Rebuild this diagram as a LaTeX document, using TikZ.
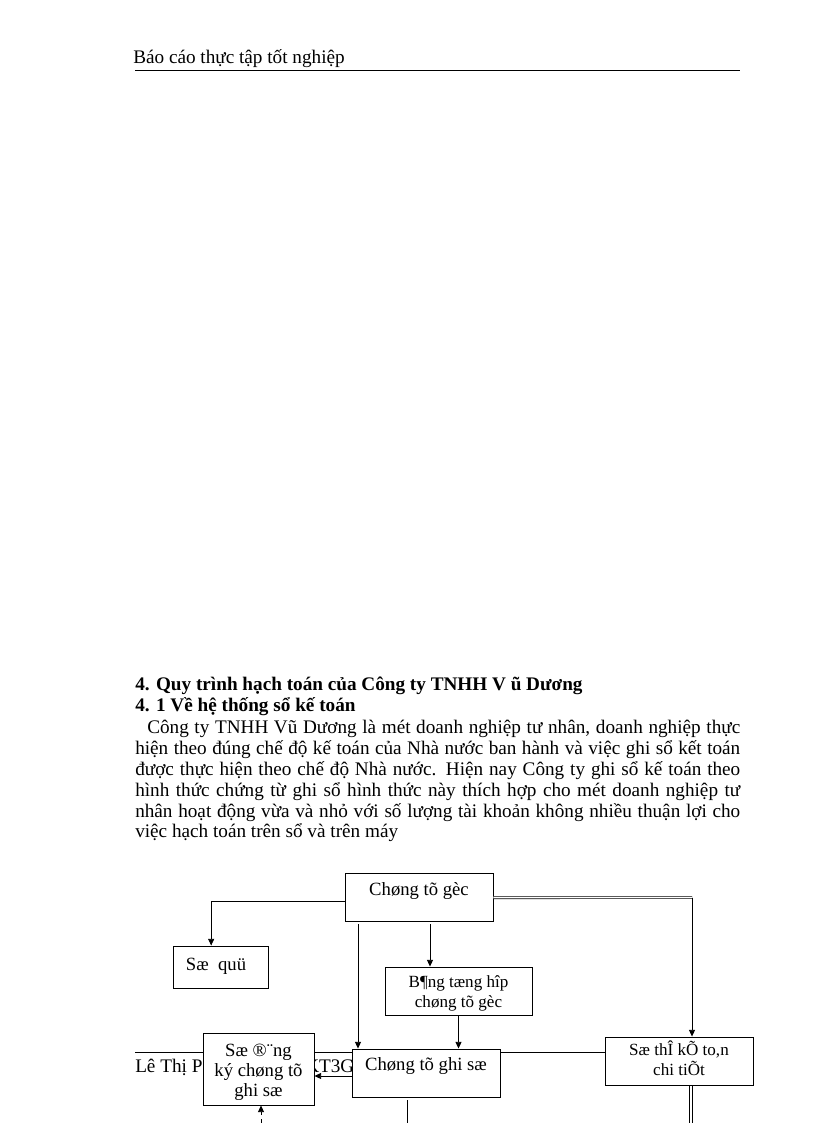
\documentclass[tikz,border=0pt]{standalone}
\usepackage{fontspec}
\setmainfont{Liberation Serif}
\usetikzlibrary{arrows.meta,calc}
\tikzset{
  pline/.style={anchor=base west, inner sep=0pt, font=\fontsize{14.4}{16}\selectfont},
  hline/.style={anchor=base west, inner sep=0pt, font=\bfseries\fontsize{14.4}{16}\selectfont},
  box/.style={draw, fill=white, line width=0.7pt, inner sep=0pt},
  btxt/.style={anchor=base, inner sep=0pt, align=center, font=\fontsize{14}{15}\selectfont},
  stxt/.style={anchor=base, inner sep=0pt, align=center, font=\fontsize{12.8}{14.5}\selectfont},
  arr/.style={line width=0.6pt, -{Triangle[length=5pt,width=4.5pt]}},
  plain/.style={line width=0.6pt},
  dbl/.style={line width=0.5pt, double, double distance=1.2pt}
}
\newcommand{\jline}[2]{\makebox[#1][s]{#2}}
\begin{document}
\begin{tikzpicture}[x=0.75pt,y=-0.75pt]
\useasboundingbox (0,0) rectangle (816,1123);
% header
\node[pline] (hdr) at (133,64) {Báo cáo thực tập tốt nghiệp};
\draw[line width=0.7pt] (135,70.5) coordinate (h1) -- (740,70.5) coordinate (h2);
% headings
\node[hline] (t1) at (135,690) {4. Quy trình hạch toán của Công ty TNHH V ũ Dương};
\node[hline] (t2) at (135,711) {4. 1 Về hệ thống sổ kế toán};
\node[pline] (p1) at (147,733) {\jline{444.75pt}{Công ty TNHH Vũ Dương là mét doanh nghiệp  tư nhân,  doanh nghiệp  thực}};
\node[pline] (p2) at (135,754) {\jline{453.75pt}{hiện theo đúng chế độ kế toán của Nhà nước ban hành và việc ghi sổ kết toán}};
\node[pline] (p3) at (135,775) {\jline{453.75pt}{được thực hiện theo chế độ Nhà nước. Hiện nay Công ty ghi sổ kế toán theo}};
\node[pline] (p4) at (135,796) {\jline{453.75pt}{hình thức chứng từ ghi sổ hình thức này thích hợp cho mét doanh nghiệp tư}};
\node[pline] (p5) at (135,817) {\jline{453.75pt}{nhân hoạt động vừa và nhỏ với số lượng tài khoản không nhiều thuận lợi cho}};
\node[pline] (p6) at (135,837) {việc hạch toán trên sổ và trên máy};
% footer (behind diagram)
\draw[line width=0.7pt] (135,1052) coordinate (f1) -- (740,1052) coordinate (f2);
\node[pline] (ft1) at (135,1072) {Lê Thị P};
\node[pline] (ft2) at (305,1072) {KT3G};
% boxes
\node[box, minimum width=111pt, minimum height=36pt] (cg) at (419,897) {};
\node[box, minimum width=71.25pt, minimum height=31.5pt] (sq) at (220.5,967) {};
\node[box, minimum width=110.25pt, minimum height=36pt] (bth) at (458.5,991) {};
\node[box, minimum width=111pt, minimum height=36pt] (ctgs) at (426,1073) {};
\node[box, minimum width=83.25pt, minimum height=54pt] (sdk) at (258.5,1069) {};
\node[box, minimum width=111pt, minimum height=36pt] (stk) at (679,1061) {};
% box texts
\node[btxt] (cgt) at (419,895) {Chøng tõ gèc};
\node[btxt] (sqt) at (216,970) {Sæ\ \ quü};
\node[stxt] (btht) at (458.5,1007) {B¶ng tæng hîp\\chøng tõ gèc};
\node[btxt] (ctgst) at (426,1070) {Chøng tõ ghi sæ};
\node[btxt] (sdkt) at (258.5,1096) {Sæ ®¨ng\\ký chøng tõ\\ghi sæ};
\node[stxt] (stkt) at (679,1075) {Sæ thÎ kÕ to,n\\chi tiÕt};
% connectors
\draw[arr] ([yshift=-3pt]cg.west) -| ([xshift=-7pt]sq.north);
\coordinate (s1) at (358,924);
\draw[arr] (s1) -- (s1 |- ctgs.north);
\coordinate (s2) at (430,924);
\draw[arr] (s2) -- (s2 |- bth.north);
\draw[arr] (bth.south) -- (bth.south |- ctgs.north);
\draw[arr] ([yshift=-2.25pt]ctgs.west) -- ([yshift=-2.25pt]ctgs.west -| sdk.east);
\coordinate (d1) at (261,1123);
\draw[arr, dashed] (d1) -- (d1 |- sdk.south);
\coordinate (v1) at (407,1100);
\coordinate (v2) at (407,1123);
\draw[plain] (v1) -- (v2);
\coordinate (c1) at (692,897.5);
\draw[dbl] ([yshift=-0.4pt]cg.east) -- (c1);
\draw[arr] (c1) -- (c1 |- stk.north);
\coordinate (w1) at (689.5,1123);
\coordinate (w2) at (692.5,1123);
\draw[plain] (stk.south -| w1) -- (w1);
\draw[plain] (stk.south -| w2) -- (w2);
\end{tikzpicture}
\end{document}
